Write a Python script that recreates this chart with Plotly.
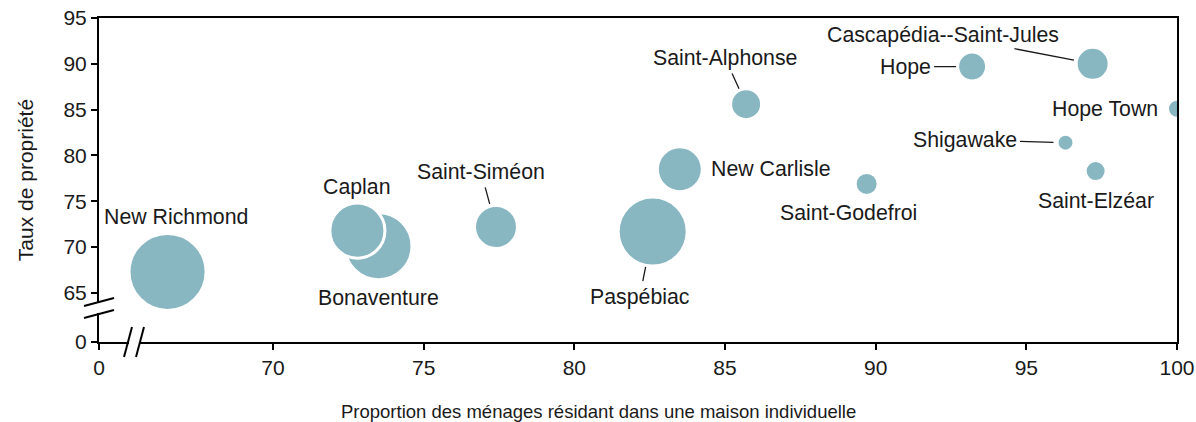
import plotly.graph_objects as go

# municipalités de la MRC de Bonaventure
municipalites = [
    "New Richmond", "Bonaventure", "Caplan", "Saint-Siméon", "Paspébiac",
    "New Carlisle", "Saint-Alphonse", "Saint-Godefroi", "Hope",
    "Cascapédia--Saint-Jules", "Hope Town", "Shigawake", "Saint-Elzéar",
]
maison_individuelle = [66.5, 73.5, 72.8, 77.4, 82.6, 83.5, 85.7, 89.7, 93.2, 97.2, 100.0, 96.3, 97.3]
taux_propriete = [67.3, 70.1, 71.8, 72.2, 71.7, 78.5, 85.6, 76.9, 89.7, 90.0, 85.1, 81.4, 78.3]
menages = [3700, 2800, 1890, 1150, 2970, 1260, 600, 330, 525, 680, 225, 180, 275]

x_ticks = [70, 75, 80, 85, 90, 95, 100]
y_ticks = [65, 70, 75, 80, 85, 90, 95]

# axes coupés : le "0" est placé juste avant la coupure
X_ZERO = 64.225
Y_ZERO = 59.65

W, H = 1196, 422
ML, MR, MT, MB = 99, 19, 18, 80
FONT = "Liberation Sans, Arial, sans-serif"
TXT = "#1a1a1a"
BULLE = "#88b7c2"

# décalage (px) du texte par rapport à la bulle, et si une ligne de rappel est tracée
etiquettes = {
    "New Richmond": (8, -55, False, 0),
    "Caplan": (0, -44, False, 0),
    "Bonaventure": (0, 52, False, 0),
    "Saint-Siméon": (-15, -55, True, 24),
    "Paspébiac": (-13, 65, True, 36),
    "New Carlisle": (91, 0, False, 0),
    "Saint-Alphonse": (-21, -46, True, 17),
    "Saint-Godefroi": (-18, 29, False, 0),
    "Hope": (-67, 0, True, 16),
    "Cascapédia--Saint-Jules": (-150, -29, True, 19),
    "Hope Town": (-72, 0, False, 0),
    "Shigawake": (-101, -3, True, 12),
    "Saint-Elzéar": (0, 30, False, 0),
}

fig = go.Figure()
fig.add_trace(go.Scatter(
    x=maison_individuelle,
    y=taux_propriete,
    mode="markers",
    marker=dict(
        size=menages,
        sizemode="area",
        sizeref=2 * max(menages) / 77 ** 2,
        color=BULLE,
        opacity=1,
        line=dict(color="white", width=3),
    ),
    text=municipalites,
    hoverinfo="text",
    showlegend=False,
))

annotations = []
for nom, x, y in zip(municipalites, maison_individuelle, taux_propriete):
    ax, ay, ligne, standoff = etiquettes[nom]
    annotations.append(dict(
        x=x, y=y, text=nom, ax=ax, ay=ay,
        showarrow=True, arrowhead=0, arrowwidth=1.3,
        arrowcolor=TXT if ligne else "rgba(0,0,0,0)",
        standoff=standoff, startstandoff=2,
        font=dict(family=FONT, size=21.3, color=TXT),
    ))


def px(x, y):
    # pixels de l'image -> coordonnées papier
    return (x - ML) / (W - ML - MR), (H - MB - y) / (H - MT - MB)


# titre de l'axe des x, centré sur la figure entière
tx, ty = px(W / 2, 411)
annotations.append(dict(
    x=tx, y=ty, xref="paper", yref="paper", xanchor="center", yanchor="middle",
    text="Proportion des ménages résidant dans une maison individuelle",
    showarrow=False, font=dict(family=FONT, size=18.5, color=TXT),
))

shapes = []
# coupure de l'axe des y
x0, y0 = px(95, 303)
x1, y1 = px(103, 313)
shapes.append(dict(type="rect", xref="paper", yref="paper", x0=x0, y0=y0, x1=x1, y1=y1,
                   fillcolor="white", line=dict(width=0), layer="above"))
for a, b in [((84, 306), (114, 298)), ((84, 318), (114, 310))]:
    (xa, ya), (xb, yb) = px(*a), px(*b)
    shapes.append(dict(type="line", xref="paper", yref="paper", x0=xa, y0=ya, x1=xb, y1=yb,
                       line=dict(color="black", width=2), layer="above"))
# coupure de l'axe des x
x0, y0 = px(129, 339)
x1, y1 = px(139, 346)
shapes.append(dict(type="rect", xref="paper", yref="paper", x0=x0, y0=y0, x1=x1, y1=y1,
                   fillcolor="white", line=dict(width=0), layer="above"))
for a, b in [((124, 357), (132, 327)), ((136, 357), (144, 327))]:
    (xa, ya), (xb, yb) = px(*a), px(*b)
    shapes.append(dict(type="line", xref="paper", yref="paper", x0=xa, y0=ya, x1=xb, y1=yb,
                       line=dict(color="black", width=2), layer="above"))

fig.update_layout(
    width=W,
    height=H,
    margin=dict(l=ML, r=MR, t=MT, b=MB),
    paper_bgcolor="white",
    plot_bgcolor="white",
    font=dict(family=FONT, size=21, color=TXT),
    annotations=annotations,
    shapes=shapes,
    xaxis=dict(
        range=[X_ZERO, 100],
        tickvals=[X_ZERO] + x_ticks,
        ticktext=["0"] + [str(v) for v in x_ticks],
        ticks="outside", ticklen=6, tickwidth=2, tickcolor="black",
        showline=True, linecolor="black", linewidth=2, mirror=True,
        showgrid=False, zeroline=False, automargin=False,
        ticklabeloverflow="allow",
        layer="below traces",
        tickfont=dict(size=21),
    ),
    yaxis=dict(
        range=[Y_ZERO, 95],
        tickvals=[Y_ZERO] + y_ticks,
        ticktext=["0"] + [str(v) for v in y_ticks],
        ticks="outside", ticklen=6, tickwidth=2, tickcolor="black",
        showline=True, linecolor="black", linewidth=2, mirror=True,
        showgrid=False, zeroline=False, automargin=False,
        ticklabeloverflow="allow",
        layer="below traces",
        title=dict(text="Taux de propriété", font=dict(size=21), standoff=24),
        tickfont=dict(size=21),
    ),
)

# la figure occupe toute la fenêtre (pas de marge du <body>)
fig.write_html(
    "out.html",
    config={"displayModeBar": False},
    post_script="document.body.style.margin='0px';",
)
